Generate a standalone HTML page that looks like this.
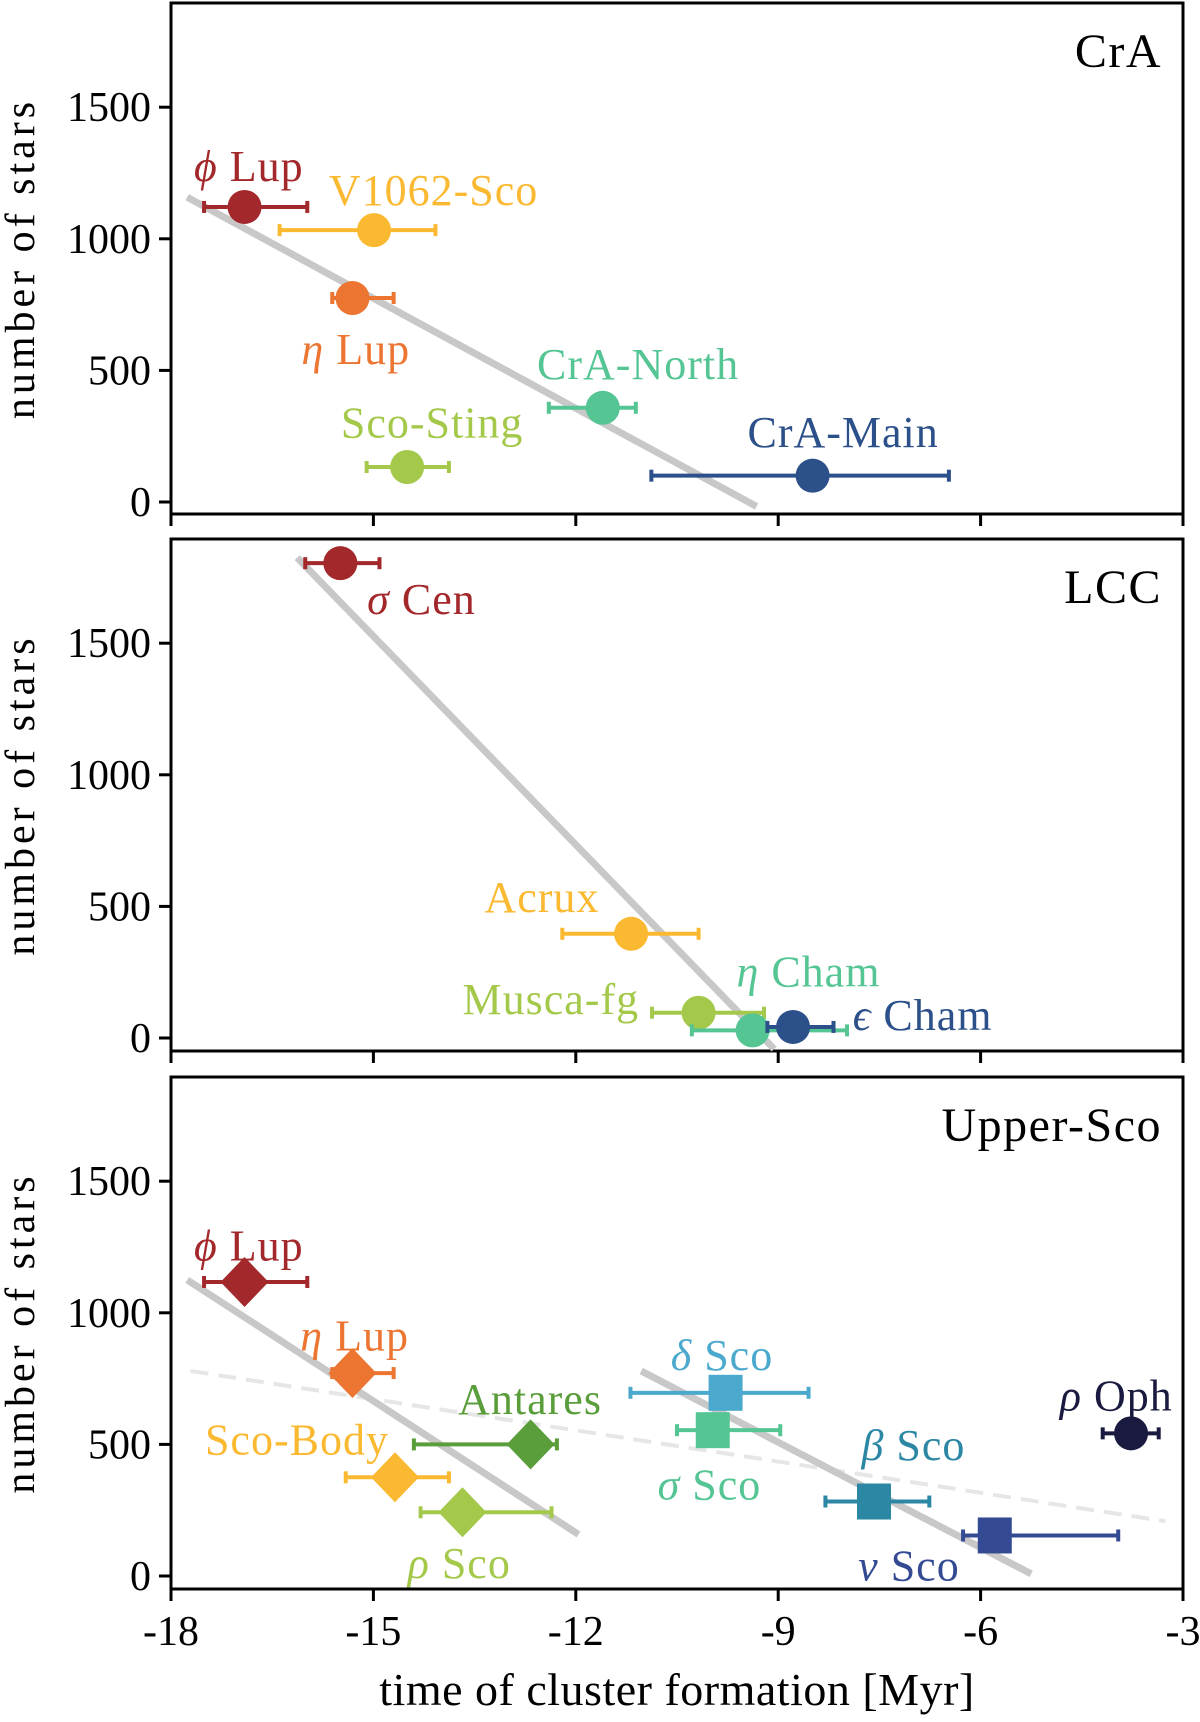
<!DOCTYPE html>
<html><head><meta charset="utf-8"><style>
html,body{margin:0;padding:0;background:#fff;}
svg text{font-family:"Liberation Serif","DejaVu Serif",serif;}
</style></head><body>
<svg id="chart" width="1200" height="1717" viewBox="0 0 1200 1717" xmlns="http://www.w3.org/2000/svg"></svg>
<script>
// ---- data ----
const xTicks = [-18, -15, -12, -9, -6, -3];
const yTicks = [0, 500, 1000, 1500];
const panelTitles = ["CrA", "LCC", "Upper-Sco"];

// panel 1 (CrA)
const p1Names = ["phi-lup", "v1062-sco", "eta-lup", "cra-north", "sco-sting", "cra-main"];
const p1X = [-16.91, -14.99, -15.31, -11.60, -14.50, -8.49];
const p1Y = [1121, 1033, 775, 358, 133, 100];
const p1Lo = [-17.51, -16.39, -15.61, -12.40, -15.10, -10.88];
const p1Hi = [-15.98, -14.08, -14.70, -11.11, -13.88, -6.47];
const p1Fit = [[-17.76, 1158], [-9.32, -17]];

// panel 2 (LCC)
const p2Names = ["sigma-cen", "acrux", "musca-fg", "eta-cham", "epsilon-cham"];
const p2X = [-15.49, -11.18, -10.18, -9.38, -8.78];
const p2Y = [1804, 396, 96, 29, 42];
const p2Lo = [-16.01, -12.20, -10.87, -10.28, -9.16];
const p2Hi = [-14.91, -10.18, -9.21, -7.98, -8.18];
const p2Fit = [[-16.13, 1825], [-9.06, -42]];

// panel 3 (Upper-Sco)
const p3Names = ["phi-lup", "eta-lup", "antares", "sco-body", "rho-sco", "delta-sco", "sigma-sco", "beta-sco", "nu-sco", "rho-oph"];
const p3X = [-16.91, -15.31, -12.67, -14.68, -13.68, -9.78, -9.97, -7.58, -5.79, -3.77];
const p3Y = [1117, 771, 500, 375, 242, 696, 554, 283, 154, 542];
const p3Lo = [-17.51, -15.61, -14.40, -15.41, -14.30, -11.19, -10.50, -8.30, -6.26, -4.19];
const p3Hi = [-15.98, -14.70, -12.28, -13.88, -12.36, -8.55, -8.97, -6.76, -3.96, -3.36];
const p3Fit1 = [[-17.76, 1125], [-11.96, 158]];
const p3Fit2 = [[-11.03, 779], [-5.25, 8]];
const p3Fit3 = [[-17.71, 779], [-3.26, 208]];

// ---- layout ----
const S = 1.096;
const X0 = 171, X1 = 1183, XMIN = -18, XMAX = -3;
const panels = [{top:3,bot:514},{top:539,bot:1051},{top:1077,bot:1589}];
const ZERO_OFF = 499, PX500 = 131.6;
const svg = document.getElementById('chart');
const NS = "http://www.w3.org/2000/svg";
function el(tag, attrs, parent){const e=document.createElementNS(NS,tag);for(const k in attrs)e.setAttribute(k,attrs[k]);(parent||svg).appendChild(e);return e;}
function sx(v){return X0+(v-XMIN)/(XMAX-XMIN)*(X1-X0);}
function sy(p,v){return panels[p].top+ZERO_OFF - v/500*PX500;}

const C = {red:"#a3282b",yel:"#fbb931",ora:"#ec7532",teal:"#55c594",lime:"#a4c94a",navy:"#2c5089",ant:"#5a9e3b",dsco:"#4ca9ce",bsco:"#2b87a4",nsco:"#344b94",roph:"#1a1a40"};

function fitLine(p, pts, name, dashed){
  const l = el('line',{x1:sx(pts[0][0]),y1:sy(p,pts[0][1]),x2:sx(pts[1][0]),y2:sy(p,pts[1][1]),stroke:dashed?"#e6e6e6":"#c8c8c8","stroke-width":dashed?4:7,"stroke-dasharray":dashed?"18 10":"none"});
  
  
}
function point(p, x, y, lo, hi, color, shape, name){
  const g = el('g',{});
  
  
  const cy = sy(p,y);
  el('line',{x1:sx(lo),y1:cy,x2:sx(hi),y2:cy,stroke:color,"stroke-width":4},g);
  el('line',{x1:sx(lo),y1:cy-6,x2:sx(lo),y2:cy+6,stroke:color,"stroke-width":4},g);
  el('line',{x1:sx(hi),y1:cy-6,x2:sx(hi),y2:cy+6,stroke:color,"stroke-width":4},g);
  const cx = sx(x);
  if(shape==='o') el('circle',{cx:cx,cy:cy,r:17,fill:color},g);
  else if(shape==='D') el('polygon',{points:`${cx},${cy-25} ${cx+24},${cy} ${cx},${cy+25} ${cx-24},${cy}`,fill:color},g);
  else el('rect',{x:cx-17,y:cy-18,width:34,height:36,fill:color},g);
}
function label(px, py, txt, color, name, greek){
  const t = el('text',{x:px*S,y:py*S,fill:color,"font-size":44,"letter-spacing":1});
  
  
  if(greek){const a=el('tspan',{"font-style":"italic"},t);a.textContent=greek+" ";const b=el('tspan',{},t);b.textContent=txt;}
  else t.textContent = txt;
}

panels.forEach((pn,i)=>{
  const g = el('g',{});
  
  
  el('rect',{x:X0,y:pn.top,width:X1-X0,height:pn.bot-pn.top,fill:"none",stroke:"#000","stroke-width":3},g);
  xTicks.forEach(v=>{
    const tk = el('line',{x1:sx(v),y1:pn.bot,x2:sx(v),y2:pn.bot+12,stroke:"#000","stroke-width":3},g);
    
    
  });
  yTicks.forEach(v=>{
    const tk = el('line',{x1:X0-12,y1:sy(i,v),x2:X0,y2:sy(i,v),stroke:"#000","stroke-width":3},g);
    
    
    const t = el('text',{x:X0-20,y:sy(i,v)+14,"text-anchor":"end","font-size":42},g);
    
    
    t.textContent = v;
  });
  const tt = el('text',{x:1162,y:pn.top+64,"text-anchor":"end","font-size":48,"letter-spacing":1.5},g);
  
  
  tt.textContent = panelTitles[i];
  const yl = el('text',{x:0,y:0,"text-anchor":"middle","font-size":42,"letter-spacing":4,transform:`translate(34,${(pn.top+pn.bot)/2}) rotate(-90)`},g);
  
  
  yl.textContent = "number of stars";
});
xTicks.forEach(v=>{
  const t = el('text',{x:sx(v),y:1645,"text-anchor":"middle","font-size":42});
  
  
  t.textContent = v;
});
const xl = el('text',{x:677,y:1705,"text-anchor":"middle","font-size":46,"letter-spacing":0.5});


xl.textContent = "time of cluster formation [Myr]";

// panel 1
fitLine(0,p1Fit,'fit-line-cra',false);
const p1C=[C.red,C.yel,C.ora,C.teal,C.lime,C.navy];
p1X.forEach((x,k)=>point(0,x,p1Y[k],p1Lo[k],p1Hi[k],p1C[k],'o',p1Names[k]));
label(177,165,"Lup",C.red,"label-phi-lup","ϕ");
label(300,187,"V1062-Sco",C.yel,"label-v1062-sco");
label(275,332,"Lup",C.ora,"label-eta-lup","η");
label(490,346,"CrA-North",C.teal,"label-cra-north");
label(311,399,"Sco-Sting",C.lime,"label-sco-sting");
label(682,408,"CrA-Main",C.navy,"label-cra-main");

// panel 2
fitLine(1,p2Fit,'fit-line-lcc',false);
const p2C=[C.red,C.yel,C.lime,C.teal,C.navy];
p2X.forEach((x,k)=>point(1,x,p2Y[k],p2Lo[k],p2Hi[k],p2C[k],'o',p2Names[k]));
label(335,560,"Cen",C.red,"label-sigma-cen","σ");
label(442,832,"Acrux",C.yel,"label-acrux");
label(422,925,"Musca-fg",C.lime,"label-musca-fg");
label(672,900,"Cham",C.teal,"label-eta-cham","η");
label(778,940,"Cham",C.navy,"label-epsilon-cham","ϵ");

// panel 3
fitLine(2,p3Fit3,'fit-line-dashed',true);
fitLine(2,p3Fit1,'fit-line-old',false);
fitLine(2,p3Fit2,'fit-line-young',false);
const p3C=[C.red,C.ora,C.ant,C.yel,C.lime,C.dsco,C.teal,C.bsco,C.nsco,C.roph];
const p3S=['D','D','D','D','D','s','s','s','s','o'];
p3X.forEach((x,k)=>point(2,x,p3Y[k],p3Lo[k],p3Hi[k],p3C[k],p3S[k],p3Names[k]));
label(177,1150,"Lup",C.red,"label-phi-lup-us","ϕ");
label(274,1232,"Lup",C.ora,"label-eta-lup-us","η");
label(418,1290,"Antares",C.ant,"label-antares");
label(187,1327,"Sco-Body",C.yel,"label-sco-body");
label(372,1440,"Sco",C.lime,"label-rho-sco","ρ");
label(612,1250,"Sco",C.dsco,"label-delta-sco","δ");
label(600,1368,"Sco",C.teal,"label-sigma-sco","σ");
label(786,1332,"Sco",C.bsco,"label-beta-sco","β");
label(783,1442,"Sco",C.nsco,"label-nu-sco","ν");
label(967,1287,"Oph",C.roph,"label-rho-oph","ρ");
</script>
</body></html>
